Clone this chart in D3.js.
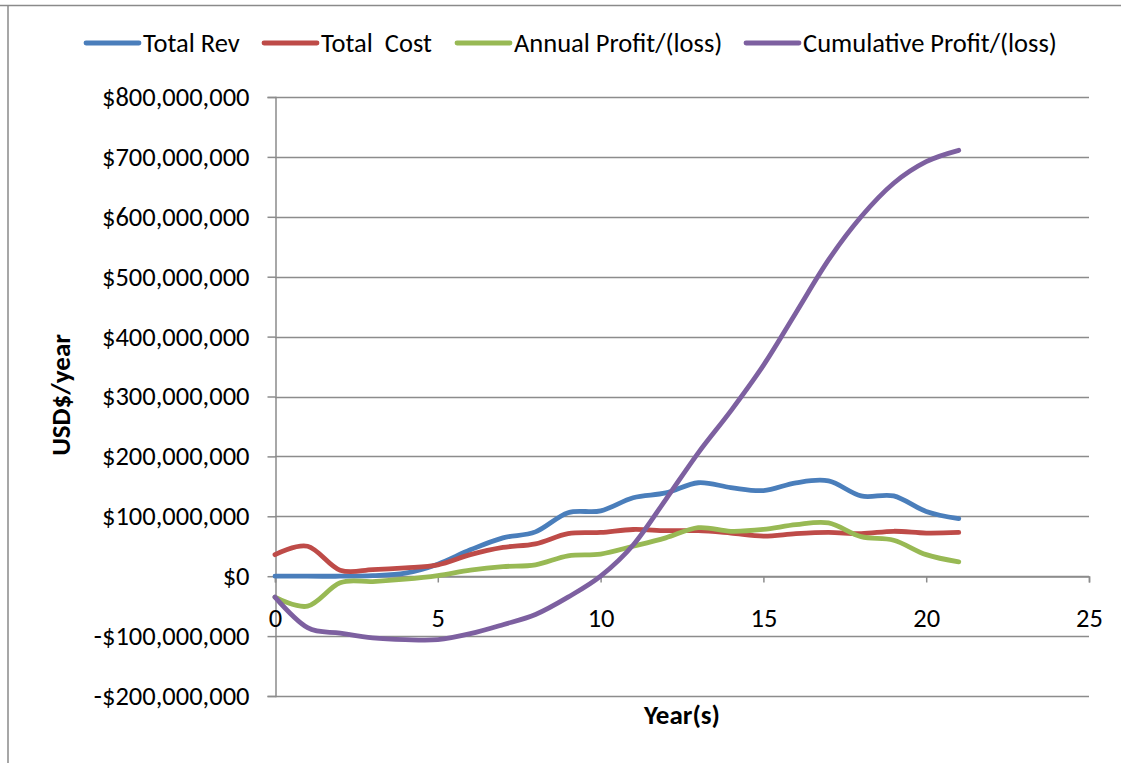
<!DOCTYPE html>
<html>
<head>
<meta charset="utf-8">
<script src="https://cdn.jsdelivr.net/npm/d3@7"></script>
<style>
  html, body { margin: 0; padding: 0; background: #fff; }
  svg { display: block; }
  text { font-family: Carlito, Calibri, Lato, sans-serif; fill: #000; }
</style>
</head>
<body>
<svg id="chart" width="1121" height="763"></svg>
<script>
// Project years and yearly figures (USD millions)
const years = d3.range(0, 22);
const totalRev = [0, 0, 0, 1, 5, 20, 44, 64, 74, 106, 109, 131, 139, 156, 148, 143, 156, 159, 134, 134, 108, 96];
const totalCost = [36, 50, 10, 11, 14, 19, 36, 48, 54, 71, 73, 78, 76, 76, 72, 67, 71, 73, 71, 75, 72, 73];
const annualProfit = [-35, -50, -11, -9, -5, 1, 10, 16, 19, 34, 37, 50, 64, 81, 75, 78, 86, 89, 66, 60, 36, 24];
const cumulativeProfit = [-35, -86, -95, -103, -106, -106, -96, -81, -64, -35, 0, 52, 128, 206, 276, 352, 440, 528, 600, 656, 692, 711];

const seriesNames = ["Total Rev", "Total  Cost", "Annual Profit/(loss)", "Cumulative Profit/(loss)"];
const seriesColors = ["#4a7ebb", "#be4b48", "#98b954", "#7d60a0"];
const seriesValues = [totalRev, totalCost, annualProfit, cumulativeProfit];

const yTicks = [-200, -100, 0, 100, 200, 300, 400, 500, 600, 700, 800];
const xTicks = [0, 5, 10, 15, 20, 25];

const svg = d3.select("#chart");
const fontStack = "Carlito, Calibri, Lato, sans-serif";

// Plot frame
const plot = { left: 275, right: 1089, top: 97, bottom: 696 };

const x = d3.scaleLinear().domain([0, 25]).range([plot.left, plot.right]);
const y = d3.scaleLinear().domain([-200, 800]).range([plot.bottom, plot.top]);

// Outer chart border (top and left edges visible)
svg.append("line").attr("x1", 0).attr("x2", 1121).attr("y1", 5.5).attr("y2", 5.5)
  .attr("stroke", "#8a8a8a").attr("stroke-width", 1.5);
svg.append("line").attr("x1", 8).attr("x2", 8).attr("y1", 5).attr("y2", 763)
  .attr("stroke", "#8a8a8a").attr("stroke-width", 1.5);

// Horizontal gridlines
const gridColor = "#8c8c8c";
svg.append("g").selectAll("line").data(yTicks).join("line")
  .attr("x1", plot.left).attr("x2", plot.right)
  .attr("y1", d => Math.round(y(d)) + 0.5).attr("y2", d => Math.round(y(d)) + 0.5)
  .attr("stroke", gridColor).attr("stroke-width", 1.5);

// Y axis
const yAxis = svg.append("g").attr("transform", `translate(${plot.left + 0.5},0)`)
  .call(d3.axisLeft(y).tickValues(yTicks).tickSize(8).tickPadding(18)
    .tickFormat(d => (d < 0 ? "-" : "") + "$" + d3.format(",")(Math.abs(d) * 1e6)));
yAxis.attr("font-size", null).attr("font-family", null);
yAxis.select(".domain").attr("stroke", gridColor).attr("stroke-width", 1.5);
yAxis.selectAll(".tick line").attr("stroke", gridColor).attr("stroke-width", 1.5);
yAxis.selectAll(".tick text").style("font-size", "26.5px").style("font-family", fontStack).attr("fill", "#000");

// X axis crossing at zero
const xAxis = svg.append("g").attr("transform", `translate(0,${Math.round(y(0)) + 0.5})`)
  .call(d3.axisBottom(x).tickValues(xTicks).tickSize(6).tickFormat(d3.format("d")));
xAxis.attr("font-size", null).attr("font-family", null);
xAxis.select(".domain").attr("stroke", gridColor).attr("stroke-width", 1.5);
xAxis.selectAll(".tick line").attr("stroke", gridColor).attr("stroke-width", 1.5);
xAxis.selectAll(".tick text").style("font-size", "26.5px").attr("y", 32)
  .style("font-family", fontStack).attr("fill", "#000");

// Series lines
const line = d3.line().x((d, i) => x(years[i])).y(d => y(d)).curve(d3.curveCardinal);
svg.append("g").selectAll("path").data(seriesValues).join("path")
  .attr("d", d => line(d))
  .attr("fill", "none")
  .attr("stroke", (d, i) => seriesColors[i])
  .attr("stroke-width", 4.8)
  .attr("stroke-linecap", "round")
  .attr("stroke-linejoin", "round");

// Axis titles
svg.append("text").attr("transform", "translate(70,395) rotate(-90)")
  .attr("text-anchor", "middle").style("font-size", "27px").attr("font-weight", "bold")
  .text("USD$/year");
svg.append("text").attr("x", 682).attr("y", 724)
  .attr("text-anchor", "middle").style("font-size", "27px").attr("font-weight", "bold")
  .text("Year(s)");

// Legend
const legendX = [86, 264, 457, 746];
const legend = svg.append("g").selectAll("g").data(seriesNames).join("g")
  .attr("transform", (d, i) => `translate(${legendX[i]},43)`);
legend.append("line").attr("x1", 0).attr("x2", 53).attr("y1", 0).attr("y2", 0)
  .attr("stroke", (d, i) => seriesColors[i]).attr("stroke-width", 4.8).attr("stroke-linecap", "round");
legend.append("text").attr("x", 57).attr("y", 8.5).style("font-size", "26.5px")
  .style("white-space", "pre").attr("xml:space", "preserve").text(d => d);
</script>
</body>
</html>
